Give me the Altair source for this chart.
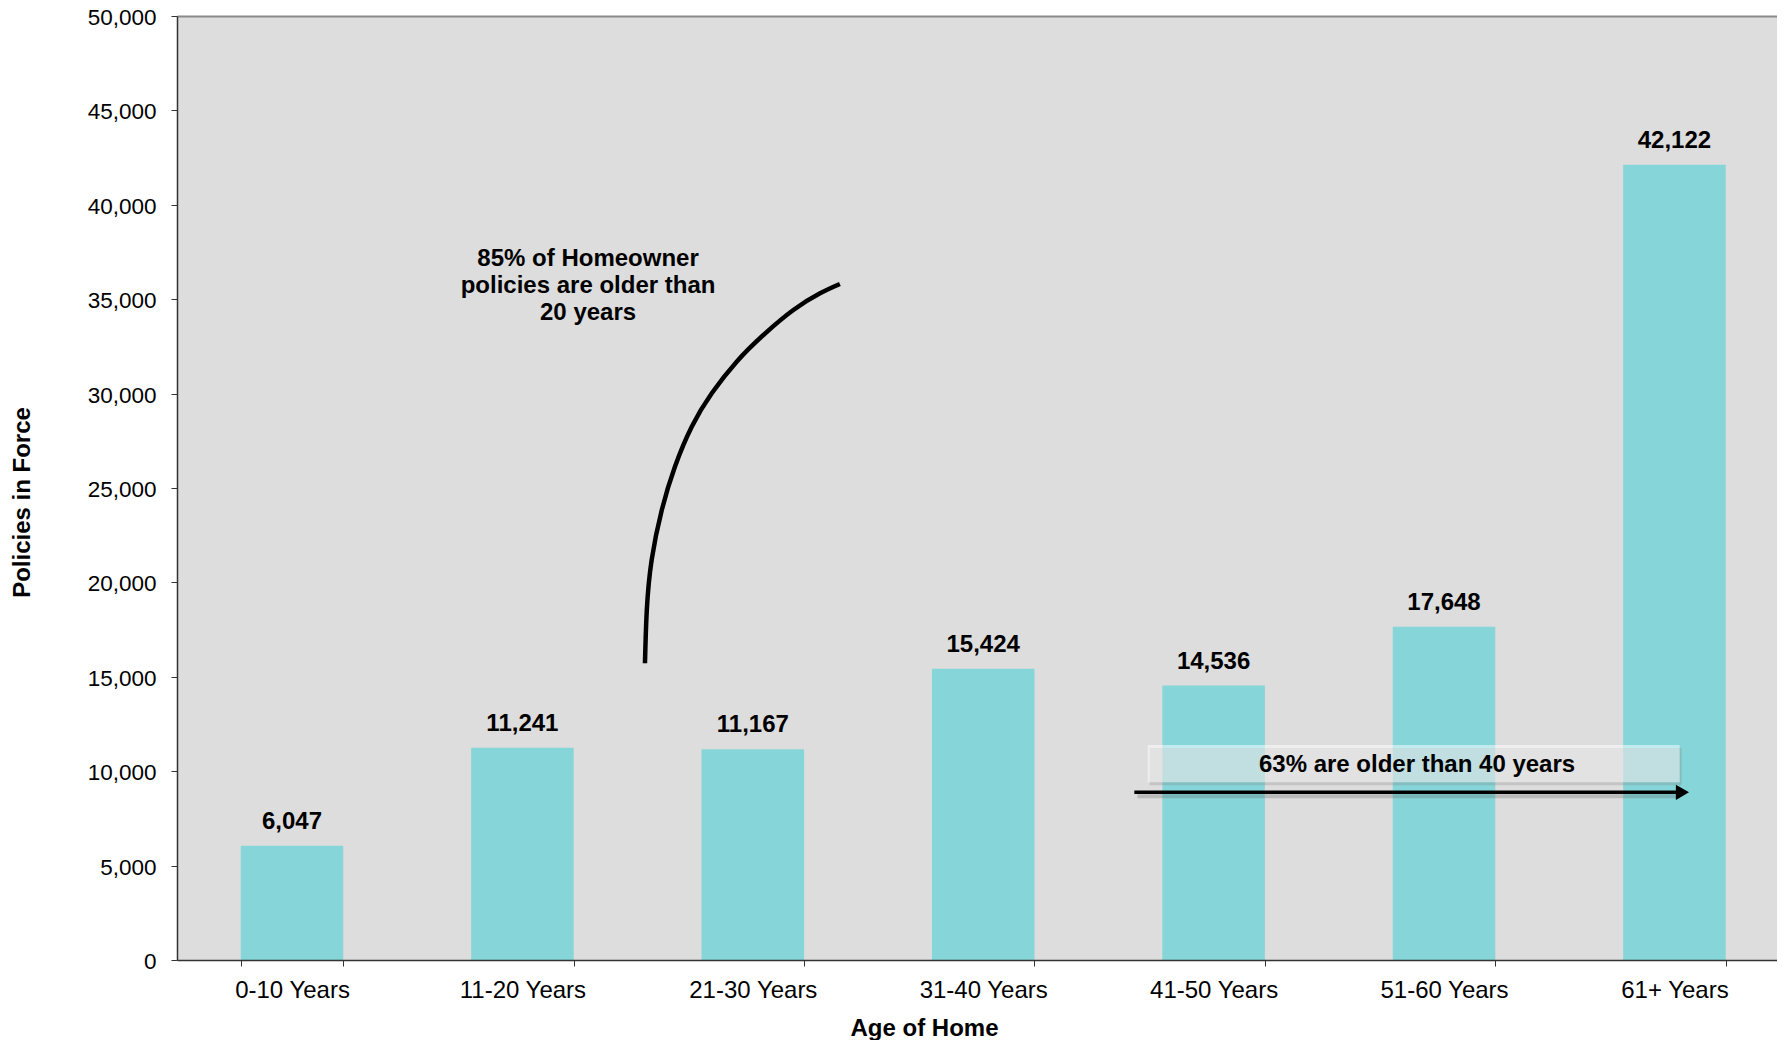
import altair as alt
import pandas as pd

FONT = "Liberation Sans"

# ---- data ----
categories = ["0-10 Years", "11-20 Years", "21-30 Years", "31-40 Years",
              "41-50 Years", "51-60 Years", "61+ Years"]
policies = [6047, 11241, 11167, 15424, 14536, 17648, 42122]

# curved annotation line (category position, policies value)
curve_pos = [1.532, 1.540, 1.561, 1.605, 1.662, 1.735, 1.822, 1.930, 2.046, 2.176, 2.292, 2.378]
curve_val = [15715, 18538, 21186, 23835, 26128, 28247, 30016, 31690, 33104, 34428, 35312, 35805]

note1_text = "85% of Homeowner\npolicies are older than\n20 years"
note1_pos = [1.285]
note1_val = [36760]

note2_text = "63% are older than 40 years"
note2_pos = [4.883]
note2_val = [9970]
box_pos = [3.714, 6.023]
box_val = [9410, 11390]
arrow_pos = [3.656, 6.01]
arrow_val = [8880, 8880]
arrowhead_pos = [6.035]

# ---- tables ----
bars_df = pd.DataFrame({"Age": categories, "Policies": policies})
curve_df = pd.DataFrame({"pos": curve_pos, "Policies": curve_val, "order": list(range(len(curve_pos)))})
note1_df = pd.DataFrame({"pos": note1_pos, "Policies": note1_val, "label": [note1_text]})
note2_df = pd.DataFrame({"pos": note2_pos, "Policies": note2_val, "label": [note2_text]})
box_df = pd.DataFrame({"pos": [box_pos[0]], "pos2": [box_pos[1]],
                       "Policies": [box_val[0]], "Policies2": [box_val[1]]})
arrow_df = pd.DataFrame({"pos": arrow_pos, "Policies": arrow_val})
head_df = pd.DataFrame({"pos": arrowhead_pos, "Policies": [arrow_val[0]]})

y_axis = alt.Axis(
    title="Policies in Force", values=list(range(0, 50001, 5000)),
    labelExpr="format(datum.value, ',')",
    grid=False, tickSize=6, tickColor="#333333", domainColor="#333333", domainWidth=1.5,
    labelFont=FONT, labelFontSize=22.5, labelColor="black", labelPadding=15, labelOffset=1.5,
    titleFont=FONT, titleFontSize=24, titleFontWeight="bold", titleColor="black",
    titleX=-155, titleY=486, titleAlign="center", titleBaseline="middle", titleAngle=270,
    zindex=1,
)
y_scale = alt.Scale(domain=[0, 50000], nice=False, zero=True)


def yenc():
    return alt.Y("Policies:Q", scale=y_scale, axis=y_axis)


# overlay scale aligned with the band centres (category index units)
qx_scale = alt.Scale(domain=[-0.4991, 6.4453], nice=False, zero=False)
# top border of the plot area drawn as a bare top axis line
top_axis = alt.Axis(orient="top", labels=False, ticks=False, grid=False, title=None,
                    domainColor="#8a8a8a", domainWidth=2, zindex=1)


def qx(field="pos"):
    return alt.X(f"{field}:Q", scale=qx_scale, axis=top_axis)


x_band = alt.X(
    "Age:N", sort=categories,
    scale=alt.Scale(paddingInner=0.555, paddingOuter=0.2497, align=0.554),
    axis=alt.Axis(
        title="Age of Home", labelAngle=0, tickBand="extent",
        labelFont=FONT, labelFontSize=24, labelColor="black", labelPadding=12,
        tickSize=6, tickColor="#333333", domainColor="#333333", domainWidth=1.5,
        titleFont=FONT, titleFontSize=24, titleFontWeight="bold", titleColor="black",
        titleX=747, titleY=75, titleAlign="center", titleBaseline="alphabetic",
        zindex=1,
    ),
)

bars = alt.Chart(bars_df).mark_bar(color="#86D5D8").encode(x=x_band, y=yenc())
values = alt.Chart(bars_df).mark_text(
    dy=-17, baseline="alphabetic", font=FONT, fontSize=24, fontWeight="bold", color="black"
).encode(x=x_band, y=yenc(), text=alt.Text("Policies:Q", format=","))
base = alt.layer(bars, values)

curve = alt.Chart(curve_df).mark_line(
    color="black", strokeWidth=4.5, interpolate="natural"
).encode(x=qx(), y=yenc(), order="order:O")

note1 = alt.Chart(note1_df).mark_text(
    font=FONT, fontSize=24, fontWeight="bold", color="black", align="center",
    baseline="alphabetic", lineBreak="\n", lineHeight=27
).encode(x=qx(), y=yenc(), text="label:N")

box_shadow = alt.Chart(box_df).mark_rect(
    fill="#7a7a7a", opacity=0.25, yOffset=3, y2Offset=3, xOffset=2, x2Offset=2
).encode(x=qx(), x2="pos2:Q", y=yenc(), y2="Policies2:Q")
box = alt.Chart(box_df).mark_rect(fill="white", opacity=0.5).encode(
    x=qx(), x2="pos2:Q", y=yenc(), y2="Policies2:Q")

note2 = alt.Chart(note2_df).mark_text(
    font=FONT, fontSize=24, fontWeight="bold", color="black", align="center",
    baseline="alphabetic"
).encode(x=qx(), y=yenc(), text="label:N")

arrow_shadow = alt.Chart(arrow_df).mark_line(
    color="#555555", strokeWidth=4, opacity=0.25, yOffset=4, xOffset=3
).encode(x=qx(), y=yenc())
arrow = alt.Chart(arrow_df).mark_line(color="black", strokeWidth=3.5).encode(x=qx(), y=yenc())
head = alt.Chart(head_df).mark_point(
    shape="triangle-right", filled=True, color="black", size=230, opacity=1
).encode(x=qx(), y=yenc())

overlay = alt.layer(curve, note1, box_shadow, box, note2, arrow_shadow, arrow, head)

chart = alt.layer(base, overlay).resolve_scale(x="independent").properties(
    width=1600, height=944,
    padding={"left": 169, "top": 8, "right": 0, "bottom": 80},
    autosize=alt.AutoSizeParams(type="none"),
    background="white",
).configure_view(fill="#DDDDDD", strokeWidth=0)

chart.save("out.html", embed_options={"renderer": "svg", "actions": False})
